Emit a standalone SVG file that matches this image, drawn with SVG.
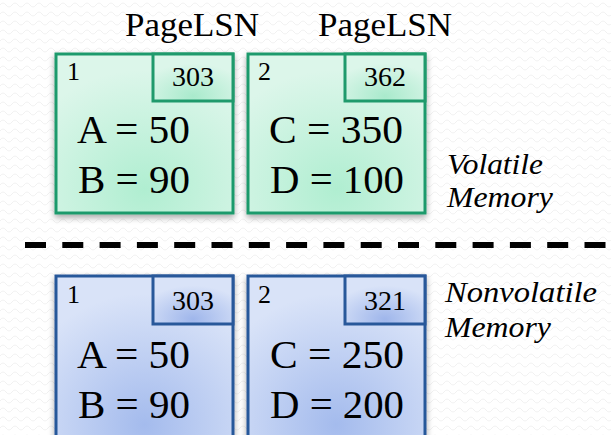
<svg xmlns="http://www.w3.org/2000/svg" width="611" height="435" viewBox="0 0 611 435">
  <defs>
    <pattern id="paper" width="12" height="9" patternUnits="userSpaceOnUse">
      <path d="M0 5 Q3 1 6 5 T12 5" fill="none" stroke="#f1f1f1" stroke-width="1"/>
    </pattern>
    <radialGradient id="greenFill" cx="0.5" cy="0.85" r="0.75">
      <stop offset="0" stop-color="#b0eed1"/>
      <stop offset="1" stop-color="#dcf6ea"/>
    </radialGradient>
    <radialGradient id="greenTab" cx="0.5" cy="0.9" r="0.7">
      <stop offset="0" stop-color="#a9eacc"/>
      <stop offset="1" stop-color="#dcf6ea"/>
    </radialGradient>
    <radialGradient id="blueFill" cx="0.5" cy="0.85" r="0.75">
      <stop offset="0" stop-color="#a4bbed"/>
      <stop offset="1" stop-color="#d9e3f8"/>
    </radialGradient>
    <radialGradient id="blueTab" cx="0.5" cy="0.9" r="0.7">
      <stop offset="0" stop-color="#9fb6eb"/>
      <stop offset="1" stop-color="#d9e3f8"/>
    </radialGradient>
    <filter id="shadow" x="-10%" y="-10%" width="120%" height="125%">
      <feDropShadow dx="0" dy="3" stdDeviation="3" flood-color="#000" flood-opacity="0.35"/>
    </filter>
  </defs>
  <style>
    .serif { font-family: "Liberation Serif", "DejaVu Serif", serif; fill: #000; }
    .head { font-size: 34px; text-anchor: middle; }
    .val { font-size: 41px; }
    .small { font-size: 26px; }
    .lsn { font-size: 27px; text-anchor: middle; }
    .note { font-size: 29px; font-style: italic; }
    .gpage { fill: url(#greenFill); stroke: #1f9a6c; stroke-width: 3; }
    .gtab { fill: url(#greenTab); stroke: #1f9a6c; stroke-width: 3; }
    .bpage { fill: url(#blueFill); stroke: #28589a; stroke-width: 3; }
    .btab { fill: url(#blueTab); stroke: #28589a; stroke-width: 3; }
  </style>

  <rect width="611" height="435" fill="#ffffff"/>
  <rect width="611" height="435" fill="url(#paper)"/>

  <!-- column headings -->
  <text class="serif head" x="192" y="36" textLength="134" lengthAdjust="spacingAndGlyphs">PageLSN</text>
  <text class="serif head" x="385" y="36" textLength="134" lengthAdjust="spacingAndGlyphs">PageLSN</text>

  <!-- volatile pages -->
  <g id="mem-page-1">
    <rect class="gpage" x="56" y="54" width="177" height="159" filter="url(#shadow)"/>
    <rect class="gtab" x="153" y="54" width="80" height="47"/>
    <text class="serif small" x="67" y="80">1</text>
    <text class="serif lsn" x="193" y="86" textLength="42" lengthAdjust="spacingAndGlyphs">303</text>
    <text class="serif val" x="77" y="143" textLength="113" lengthAdjust="spacingAndGlyphs">A = 50</text>
    <text class="serif val" x="78" y="193" textLength="112" lengthAdjust="spacingAndGlyphs">B = 90</text>
  </g>
  <g id="mem-page-2">
    <rect class="gpage" x="248" y="54" width="177" height="159" filter="url(#shadow)"/>
    <rect class="gtab" x="345" y="54" width="80" height="47"/>
    <text class="serif small" x="258" y="80">2</text>
    <text class="serif lsn" x="385" y="86" textLength="42" lengthAdjust="spacingAndGlyphs">362</text>
    <text class="serif val" x="269" y="143" textLength="134" lengthAdjust="spacingAndGlyphs">C = 350</text>
    <text class="serif val" x="270" y="193" textLength="134" lengthAdjust="spacingAndGlyphs">D = 100</text>
  </g>
  <g id="volatile-label">
    <text class="serif note" x="447" y="174" textLength="96" lengthAdjust="spacingAndGlyphs">Volatile</text>
    <text class="serif note" x="447" y="207" textLength="106" lengthAdjust="spacingAndGlyphs">Memory</text>
  </g>

  <!-- boundary between memory and disk -->
  <g id="connectors">
    <line x1="25" y1="245" x2="611" y2="245" stroke="#000" stroke-width="6" stroke-dasharray="21 16.3"/>
  </g>

  <!-- nonvolatile pages -->
  <g id="disk-page-1">
    <rect class="bpage" x="56" y="276" width="177" height="175" filter="url(#shadow)"/>
    <rect class="btab" x="153" y="276" width="80" height="48"/>
    <text class="serif small" x="67" y="303">1</text>
    <text class="serif lsn" x="193" y="310" textLength="42" lengthAdjust="spacingAndGlyphs">303</text>
    <text class="serif val" x="77" y="368" textLength="113" lengthAdjust="spacingAndGlyphs">A = 50</text>
    <text class="serif val" x="78" y="418" textLength="112" lengthAdjust="spacingAndGlyphs">B = 90</text>
  </g>
  <g id="disk-page-2">
    <rect class="bpage" x="248" y="276" width="177" height="175" filter="url(#shadow)"/>
    <rect class="btab" x="345" y="276" width="80" height="48"/>
    <text class="serif small" x="258" y="303">2</text>
    <text class="serif lsn" x="385" y="310" textLength="42" lengthAdjust="spacingAndGlyphs">321</text>
    <text class="serif val" x="270" y="368" textLength="134" lengthAdjust="spacingAndGlyphs">C = 250</text>
    <text class="serif val" x="270" y="418" textLength="134" lengthAdjust="spacingAndGlyphs">D = 200</text>
  </g>
  <g id="nonvolatile-label">
    <text class="serif note" x="445" y="302" textLength="152" lengthAdjust="spacingAndGlyphs">Nonvolatile</text>
    <text class="serif note" x="445" y="337" textLength="106" lengthAdjust="spacingAndGlyphs">Memory</text>
  </g>
</svg>
